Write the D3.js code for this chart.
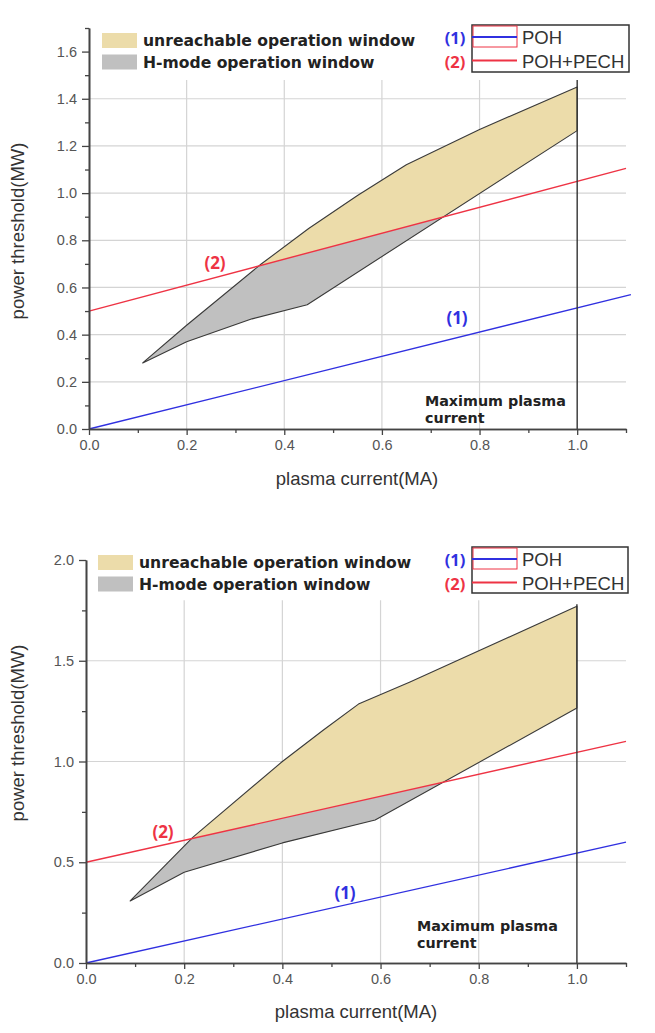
<!DOCTYPE html>
<html><head><meta charset="utf-8">
<script src="https://cdn.jsdelivr.net/npm/d3@7"></script>
<style>
body{margin:0;background:#fff;}
svg{display:block;}
</style></head>
<body>
<svg id="chart" width="655" height="1033"></svg>
<script>
// ---------- DATA ----------
const xMajorTicks = [0, 0.2, 0.4, 0.6, 0.8, 1.0];
const xMinorTicks = [0.1, 0.3, 0.5, 0.7, 0.9, 1.1];
const xGridTicks = [0.2, 0.4, 0.6, 0.8];

const topYMajor = [0, 0.2, 0.4, 0.6, 0.8, 1.0, 1.2, 1.4, 1.6];
const topYMinor = [0.1, 0.3, 0.5, 0.7, 0.9, 1.1, 1.3, 1.5, 1.7];
const topYGrid = [0.2, 0.4, 0.6, 0.8, 1.0, 1.2, 1.4];
const topUpper = [[0.11,0.28],[0.2,0.44],[0.35,0.695],[0.45,0.85],[0.55,0.99],[0.65,1.12],[0.8,1.27],[1.0,1.45]];
const topLower = [[0.11,0.28],[0.2,0.37],[0.334,0.467],[0.447,0.527],[1.0,1.265]];
const topPOH = [[0,0],[1.11,0.57]];
const topPECH = [[0,0.5],[1.1,1.105]];

const botYMajor = [0, 0.5, 1.0, 1.5, 2.0];
const botYMinor = [0.25, 0.75, 1.25, 1.75];
const botYGrid = [0.5, 1.0, 1.5];
const botUpper = [[0.09,0.308],[0.218,0.625],[0.4,1.0],[0.483,1.155],[0.555,1.285],[0.66,1.395],[1.0,1.77]];
const botLower = [[0.09,0.308],[0.2,0.45],[0.4,0.596],[0.589,0.71],[1.0,1.265]];
const botPOH = [[0,0],[1.1,0.60]];
const botPECH = [[0,0.5],[1.1,1.10]];

const legendFillLabels = ["unreachable operation window", "H-mode operation window"];
const legendLineLabels = ["POH", "POH+PECH"];
const legendLineTags = ["(1)", "(2)"];
const maxLabel = ["Maximum plasma", "current"];
const xTitle = "plasma current(MA)";
const yTitle = "power threshold(MW)";

// ---------- STYLE ----------
const C = {
  yellow: "#ecdcaa", gray: "#c0c0c0", outline: "#3a3a3a",
  red: "#ee3344", blue: "#3030e0", grid: "#d4d4d4", axis: "#444",
  tick: "#555", text: "#222"
};
const svg = d3.select("#chart");
let clipId = 0;

function drawPanel(cfg) {
  const g = svg.append("g");
  const x = d3.scaleLinear().domain([0, 1.1]).range([cfg.x0, cfg.x1]);
  const y = d3.scaleLinear().domain([0, cfg.ymax]).range([cfg.y0, cfg.y1]);
  const line = d3.line().x(d => x(d[0])).y(d => y(d[1]));

  // gridlines
  g.selectAll(".vg").data(xGridTicks).join("line")
    .attr("x1", d => x(d)).attr("x2", d => x(d))
    .attr("y1", y(0)).attr("y2", y(cfg.gridTop))
    .attr("stroke", C.grid).attr("stroke-width", 1.2);
  g.selectAll(".hg").data(cfg.yGrid).join("line")
    .attr("x1", x(0)).attr("x2", x(1.1))
    .attr("y1", d => y(d)).attr("y2", d => y(d))
    .attr("stroke", C.grid).attr("stroke-width", 1.2);

  // region polygon
  const poly = cfg.upper.concat(cfg.lower.slice().reverse());
  g.append("path").attr("d", line(poly) + "Z").attr("fill", C.yellow);
  const id = "clipBelow" + (clipId++);
  const pech = cfg.pech;
  const clipPoly = [pech[0], pech[1], [pech[1][0], 0], [pech[0][0], 0]];
  g.append("clipPath").attr("id", id).append("path").attr("d", line(clipPoly) + "Z");
  g.append("path").attr("d", line(poly) + "Z").attr("fill", C.gray).attr("clip-path", `url(#${id})`);
  g.append("path").attr("d", line(poly) + "Z").attr("fill", "none")
    .attr("stroke", C.outline).attr("stroke-width", 1.1).attr("stroke-linejoin", "round");

  // lines
  g.append("path").attr("d", line(cfg.pech)).attr("fill", "none").attr("stroke", C.red).attr("stroke-width", 1.4);
  g.append("path").attr("d", line(cfg.poh)).attr("fill", "none").attr("stroke", C.blue).attr("stroke-width", 1.3);

  // max current line
  g.append("line").attr("x1", x(1.0)).attr("x2", x(1.0))
    .attr("y1", y(0)).attr("y2", y(cfg.maxTop))
    .attr("stroke", "#333").attr("stroke-width", 1.4);

  // axes
  const fmt = d3.format(".1f");
  g.append("g").attr("transform", `translate(0,${y(0)})`)
    .call(d3.axisBottom(x).tickValues(xMajorTicks).tickFormat(fmt).tickSize(6).tickSizeOuter(0).tickPadding(5));
  g.append("g").attr("transform", `translate(0,${y(0)})`)
    .call(d3.axisBottom(x).tickValues(xMinorTicks).tickFormat("").tickSize(4).tickSizeOuter(0));
  g.append("g").attr("transform", `translate(${x(0)},0)`)
    .call(d3.axisLeft(y).tickValues(cfg.yMajor).tickFormat(fmt).tickSize(7).tickSizeOuter(0).tickPadding(5));
  g.append("g").attr("transform", `translate(${x(0)},0)`)
    .call(d3.axisLeft(y).tickValues(cfg.yMinor).tickFormat("").tickSize(4).tickSizeOuter(0));
  g.selectAll(".domain").attr("stroke", C.axis).attr("stroke-width", 1.6);
  g.selectAll(".tick line").attr("stroke", C.axis).attr("stroke-width", 1.3);
  g.selectAll(".tick text").attr("fill", C.tick).attr("font-family", "Liberation Sans, Arial, sans-serif").attr("font-size", 14.5);

  // titles
  g.append("text").attr("x", cfg.xTitleX).attr("y", cfg.xTitleY).attr("text-anchor", "middle")
    .attr("font-family", "Liberation Sans, Arial, sans-serif").attr("font-size", 18.5).attr("fill", "#333").text(xTitle);
  g.append("text").attr("transform", `translate(${cfg.yTitleX},${cfg.yTitleY}) rotate(-90)`).attr("text-anchor", "middle")
    .attr("font-family", "Liberation Sans, Arial, sans-serif").attr("font-size", 18.5).attr("fill", "#333").text(yTitle);

  // annotations
  g.append("text").attr("x", cfg.tag2[0]).attr("y", cfg.tag2[1]).attr("text-anchor", "middle")
    .attr("font-family", "Open Sans, sans-serif").attr("font-weight", "bold").attr("font-size", 17).attr("fill", C.red).text(legendLineTags[1]);
  g.append("text").attr("x", cfg.tag1[0]).attr("y", cfg.tag1[1]).attr("text-anchor", "middle")
    .attr("font-family", "Open Sans, sans-serif").attr("font-weight", "bold").attr("font-size", 17).attr("fill", C.blue).text(legendLineTags[0]);
  g.selectAll(".maxl").data(maxLabel).join("text")
    .attr("x", cfg.maxText[0]).attr("y", (d, i) => cfg.maxText[1] + i * 17)
    .attr("font-family", "DejaVu Sans, sans-serif").attr("font-weight", "bold").attr("font-size", 14.3).attr("fill", C.text)
    .text(d => d);

  // fill legend
  const fl = cfg.fillLegend;
  [C.yellow, C.gray].forEach((c, i) => {
    g.append("rect").attr("x", fl[0]).attr("y", fl[1] + i * 21.5).attr("width", 35).attr("height", 15).attr("fill", c);
    g.append("text").attr("x", fl[0] + 41).attr("y", fl[1] + i * 21.5 + 13)
      .attr("font-family", "DejaVu Sans, sans-serif").attr("font-weight", "bold").attr("font-size", 15.6).attr("fill", C.text)
      .text(legendFillLabels[i]);
  });

  // line legend
  const ll = cfg.lineLegend; // [x, y, w, h]
  g.append("rect").attr("x", ll[0]).attr("y", ll[1]).attr("width", ll[2]).attr("height", ll[3])
    .attr("fill", "#fff").attr("stroke", "#333").attr("stroke-width", 1.5);
  g.append("rect").attr("x", ll[0] + 1).attr("y", ll[1] + 1).attr("width", 44).attr("height", 21)
    .attr("fill", "none").attr("stroke", C.red).attr("stroke-width", 1);
  [C.blue, C.red].forEach((c, i) => {
    const ly = ll[1] + 12 + i * 23.5;
    g.append("line").attr("x1", ll[0]).attr("x2", ll[0] + 45).attr("y1", ly).attr("y2", ly)
      .attr("stroke", c).attr("stroke-width", 2);
    g.append("text").attr("x", ll[0] + 50).attr("y", ly + 7)
      .attr("font-family", "Liberation Sans, Arial, sans-serif").attr("font-size", 18.5).attr("fill", "#333")
      .text(legendLineLabels[i]);
    g.append("text").attr("x", ll[0] - 17).attr("y", ly + 7).attr("text-anchor", "middle")
      .attr("font-family", "Open Sans, sans-serif").attr("font-weight", "bold").attr("font-size", 16.5).attr("fill", c)
      .text(legendLineTags[i]);
  });
}

drawPanel({
  x0: 89, x1: 626, y0: 429, y1: 28, ymax: 1.7,
  yMajor: topYMajor, yMinor: topYMinor, yGrid: topYGrid, gridTop: 1.48, maxTop: 1.48,
  upper: topUpper, lower: topLower, poh: topPOH, pech: topPECH,
  xTitleX: 357, xTitleY: 485, yTitleX: 24, yTitleY: 231,
  tag2: [215, 269], tag1: [457, 324], maxText: [425, 406],
  fillLegend: [102, 33], lineLegend: [472, 25, 157, 47]
});
drawPanel({
  x0: 86, x1: 626, y0: 963, y1: 560, ymax: 2.0,
  yMajor: botYMajor, yMinor: botYMinor, yGrid: botYGrid, gridTop: 1.8, maxTop: 1.78,
  upper: botUpper, lower: botLower, poh: botPOH, pech: botPECH,
  xTitleX: 356, xTitleY: 1018, yTitleX: 24, yTitleY: 733,
  tag2: [163, 838], tag1: [345, 899], maxText: [417, 931],
  fillLegend: [98, 555], lineLegend: [472, 547, 156, 46]
});
</script>
</body></html>
